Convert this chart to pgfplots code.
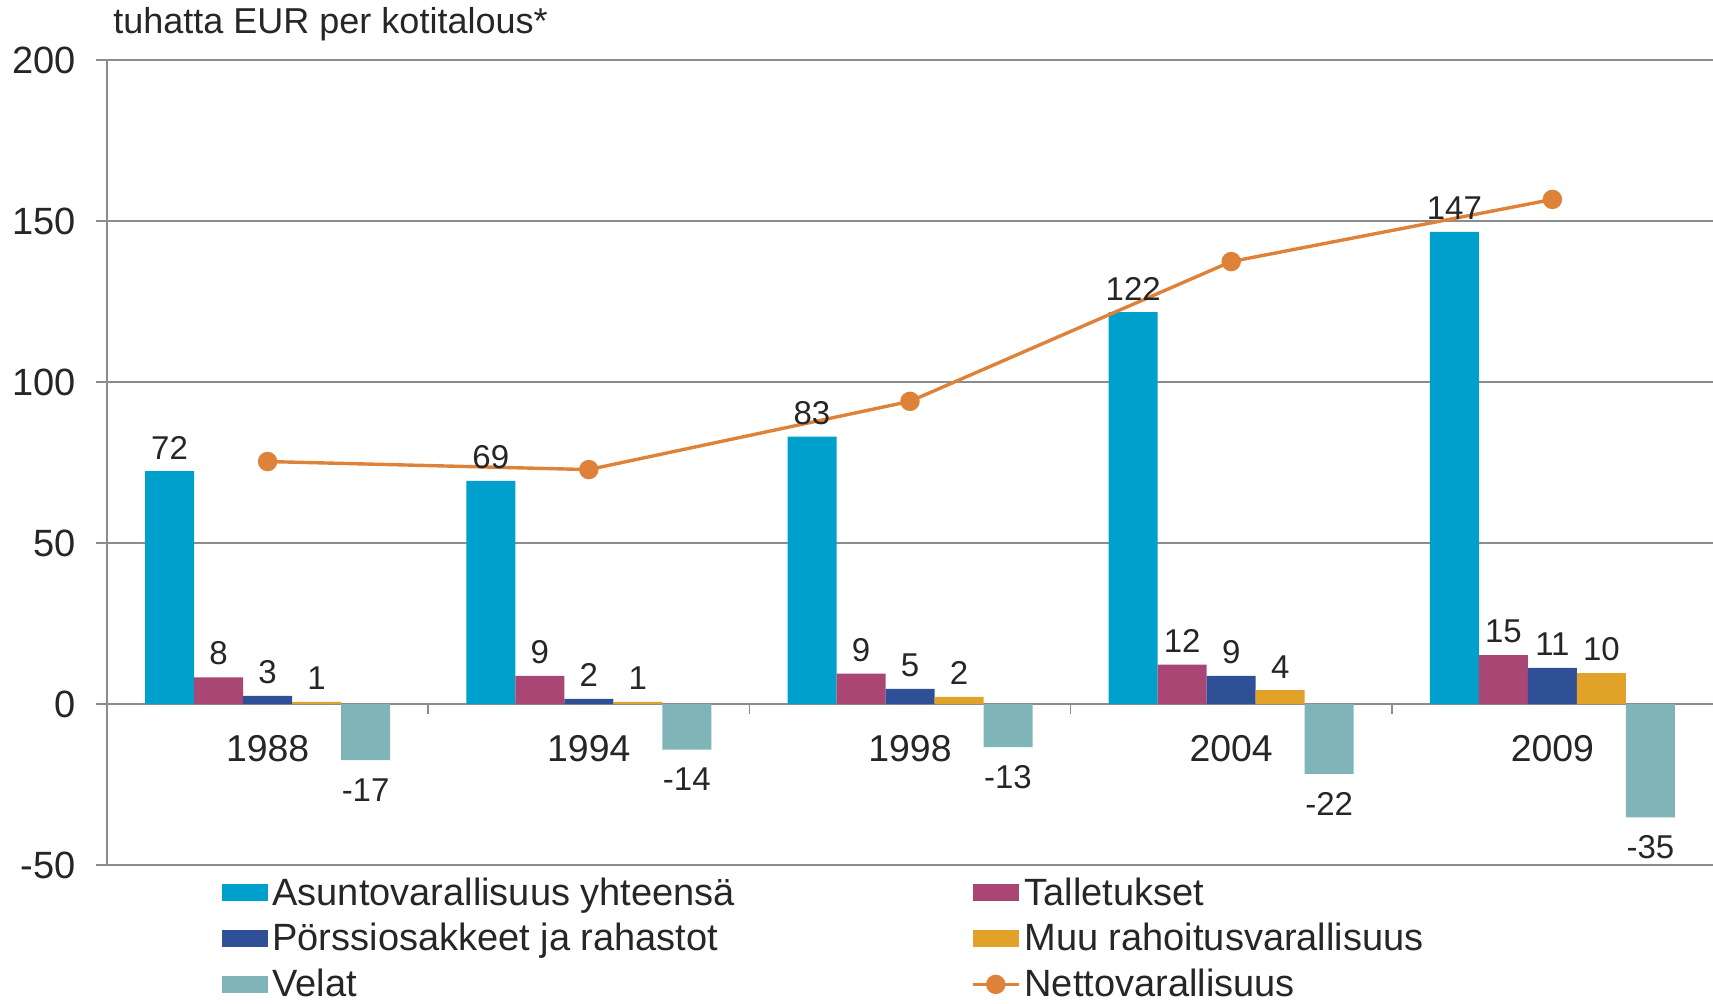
\documentclass[border=0pt]{standalone}
\usepackage{pgfplots}
\pgfplotsset{compat=1.18}
\usepackage{fontspec}
\setmainfont{Liberation Sans}
\definecolor{cAsu}{HTML}{00A0CC}
\definecolor{cTal}{HTML}{AA4674}
\definecolor{cPor}{HTML}{2F4F96}
\definecolor{cMuu}{HTML}{E0A229}
\definecolor{cVel}{HTML}{7FB5B9}
\definecolor{cNet}{HTML}{DE823A}
\definecolor{txt}{HTML}{262626}
\definecolor{grd}{HTML}{8C8C8C}
\begin{document}
\begin{tikzpicture}
\begin{axis}[
  at={(53.5pt,69pt)}, anchor=south west,
  scale only axis, width=803pt, height=402.5pt,
  xmin=-0.5, xmax=4.5, ymin=-50, ymax=200,
  axis x line*=middle, axis y line*=left,
  hide obscured x ticks=false, hide obscured y ticks=false,
  axis line style={grd, line width=0.75pt},
  ytick={-50,0,50,100,150,200},
  yticklabels={-50,0,50,100,150,200},
  ymajorgrids, grid style={grd, line width=0.75pt},
  ytick align=outside, major tick length=5.5pt, minor tick length=5pt,
  ytick style={grd, line width=0.75pt},
  yticklabel style={font=\fontsize{19}{22}\selectfont, text=txt, xshift=-6.7pt},
  xtick={0,1,2,3,4},
  xticklabels={1988,1994,1998,2004,2009},
  xtick align=outside,
  major x tick style={draw=none},
  minor xtick={0.5,1.5,2.5,3.5},
  minor x tick style={grd, line width=0.75pt},
  xticklabel style={font=\fontsize{18.7}{22}\selectfont, text=txt, yshift=-6.7pt},
  nodes near coords,
  point meta=explicit symbolic,
  every node near coord/.append style={font=\fontsize{16.5}{19}\selectfont, text=txt, yshift=2.5pt},
  legend columns=2,
  legend style={at={(rel axis cs:0.0679,-0.0053)}, anchor=north west, draw=none, fill=none,
    font=\fontsize{19}{22}\selectfont, text=txt, row sep=3.6pt,
    /tikz/every even column/.append style={column sep=116pt}},
  legend cell align=left,
]
\addplot[ybar, bar width=24.5pt, bar shift=-49pt, fill=cAsu, draw=none,
  every node near coord/.append style={xshift=-49pt},
  legend image code/.code={\fill[cAsu] (0pt,-4.25pt) rectangle (23pt,4.25pt);}]
  coordinates {(0,72.3)[72] (1,69.3)[69] (2,83)[83] (3,121.7)[122] (4,146.6)[147]};
\addlegendentry{Asuntovarallisuus yhteensä}
\addplot[ybar, bar width=24.5pt, bar shift=-24.5pt, fill=cTal, draw=none,
  every node near coord/.append style={xshift=-24.5pt},
  legend image code/.code={\fill[cTal] (0pt,-4.25pt) rectangle (23pt,4.25pt);}]
  coordinates {(0,8.3)[8] (1,8.7)[9] (2,9.4)[9] (3,12.2)[12] (4,15.2)[15]};
\addlegendentry{Talletukset}
\addplot[ybar, bar width=24.5pt, bar shift=0pt, fill=cPor, draw=none,
  legend image code/.code={\fill[cPor] (0pt,-4.25pt) rectangle (23pt,4.25pt);}]
  coordinates {(0,2.5)[3] (1,1.6)[2] (2,4.7)[5] (3,8.7)[9] (4,11.2)[11]};
\addlegendentry{Pörssiosakkeet ja rahastot}
\addplot[ybar, bar width=24.5pt, bar shift=24.5pt, fill=cMuu, draw=none,
  every node near coord/.append style={xshift=24.5pt},
  legend image code/.code={\fill[cMuu] (0pt,-4.25pt) rectangle (23pt,4.25pt);}]
  coordinates {(0,0.7)[1] (1,0.7)[1] (2,2.2)[2] (3,4.3)[4] (4,9.6)[10]};
\addlegendentry{Muu rahoitusvarallisuus}
\addplot[ybar, bar width=24.5pt, bar shift=49pt, fill=cVel, draw=none,
  every node near coord/.append style={xshift=49pt, anchor=north, yshift=-8.2pt},
  legend image code/.code={\fill[cVel] (0pt,-4.25pt) rectangle (23pt,4.25pt);}]
  coordinates {(0,-17.4)[-17] (1,-14.2)[-14] (2,-13.4)[-13] (3,-21.7)[-22] (4,-35.2)[-35]};
\addlegendentry{Velat}
\addplot[cNet, line width=1.7pt, mark=*, mark size=4pt, mark options={fill=cNet, draw=cNet},
  nodes near coords={},
  legend image code/.code={\draw[cNet, line width=1.7pt] (0pt,0pt) -- (23pt,0pt); \fill[cNet] (11.5pt,0pt) circle (4pt);}]
  coordinates {(0,75.3) (1,72.8) (2,94) (3,137.4) (4,156.7)};
\addlegendentry{Nettovarallisuus}
\end{axis}
\node[anchor=base west, inner sep=0pt, font=\fontsize{18}{21}\selectfont, text=txt] at (56.5pt,484.5pt) {tuhatta EUR per kotitalous*};
\pgfresetboundingbox
\path[use as bounding box] (0,0) rectangle (856.5pt,501.5pt);
\end{tikzpicture}
\end{document}
